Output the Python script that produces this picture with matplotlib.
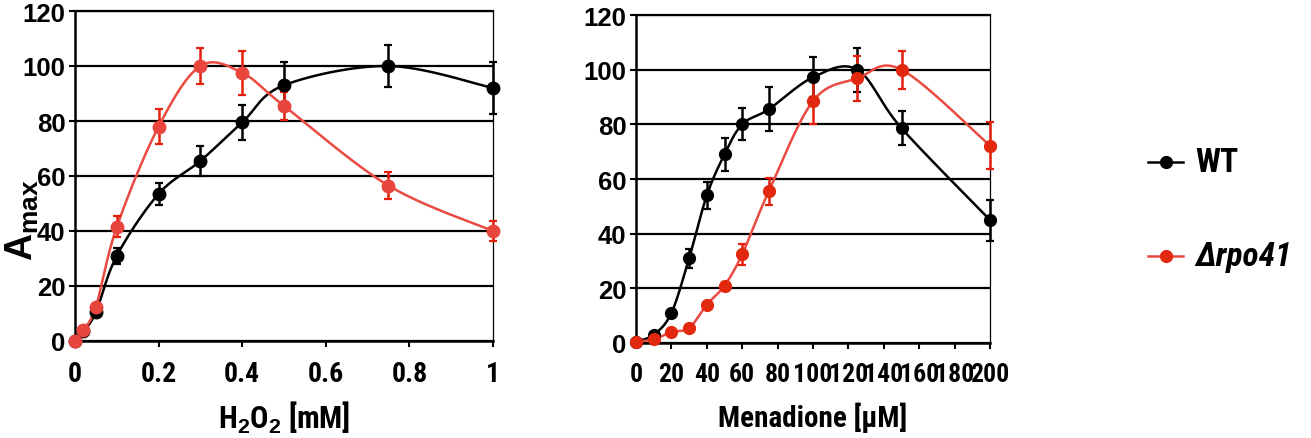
import numpy as np
import matplotlib
matplotlib.use("Agg")
import matplotlib.pyplot as plt
from matplotlib.lines import Line2D
from matplotlib import font_manager


def pick_bold_family(candidates, fallback="Liberation Sans"):
    fonts = font_manager.fontManager.ttflist
    for name in candidates:
        for f in fonts:
            w = f.weight if isinstance(f.weight, int) else 400
            if f.name == name and w >= 700 and f.style == "normal":
                return name
    return fallback


plt.rcParams["font.family"] = ["Liberation Sans", "DejaVu Sans"]
plt.rcParams["font.weight"] = "bold"
plt.rcParams["mathtext.fontset"] = "custom"
plt.rcParams["mathtext.rm"] = "Liberation Sans:bold"
plt.rcParams["mathtext.it"] = "Liberation Sans:bold:italic"
plt.rcParams["mathtext.bf"] = "Liberation Sans:bold"
plt.rcParams["mathtext.default"] = "rm"

narrow_name = pick_bold_family(["Roboto Condensed", "Archivo Narrow",
                                "PT Sans Narrow", "IBM Plex Sans Condensed",
                                "Fira Sans Condensed", "Barlow Semi Condensed"])
NARROW = [narrow_name, "Liberation Sans", "DejaVu Sans"]

# ---- H2O2 panel ----
h2o2_conc = [0, 0.02, 0.05, 0.1, 0.2, 0.3, 0.4, 0.5, 0.75, 1.0]
h2o2_wt = [0, 3.5, 10.5, 31, 53.5, 65.5, 79.5, 93, 100, 92]
h2o2_wt_err = [0, 0, 1, 3, 4, 5.5, 6.5, 8.5, 7.5, 9.5]
h2o2_mut = [0, 4, 12.5, 41.5, 78, 100, 97.5, 85.5, 56.5, 40]
h2o2_mut_err = [0, 0, 1, 3.8, 6.5, 6.7, 8, 5, 4.8, 3.5]
h2o2_ticks = [0, 0.2, 0.4, 0.6, 0.8, 1.0]
h2o2_ticklabels = ["0", "0.2", "0.4", "0.6", "0.8", "1"]

# ---- Menadione panel ----
men_conc = [0, 10, 20, 30, 40, 50, 60, 75, 100, 125, 150, 200]
men_wt = [0.5, 3, 11, 31, 54, 69, 80, 85.5, 97.2, 100, 78.6, 45]
men_wt_err = [0, 0, 0, 3.5, 5, 6, 5.8, 8, 7.3, 8, 6.2, 7.5]
men_mut = [0.5, 1.3, 4, 5.5, 14, 21, 32.5, 55.5, 88.5, 96.8, 100, 72.2]
men_mut_err = [0, 0, 0, 0, 0, 1.5, 3.8, 5, 8.3, 8.3, 7, 8.6]
men_ticks = list(range(0, 201, 20))

y_ticks = [0, 20, 40, 60, 80, 100, 120]

series_labels = ["WT", "\u0394rpo41"]

BLACK = "#000000"
RED_LINE = "#ea4a42"
RED_ERR = "#e4200c"


def excel_smooth(ax, x, y, n=30):
    """Bezier smoothing in display space, like a spreadsheet 'smoothed line'."""
    ax.figure.canvas.draw()
    pts = ax.transData.transform(np.column_stack([x, y]))
    m = len(pts)
    out = []
    for i in range(m - 1):
        p0 = pts[max(i - 1, 0)]
        p1 = pts[i]
        p2 = pts[i + 1]
        p3 = pts[min(i + 2, m - 1)]
        c1 = p1 + (p2 - p0) / 6.0
        c2 = p2 - (p3 - p1) / 6.0
        t = np.linspace(0, 1, n)[:, None]
        seg = ((1 - t) ** 3) * p1 + 3 * ((1 - t) ** 2) * t * c1 \
            + 3 * (1 - t) * t ** 2 * c2 + t ** 3 * p2
        out.append(seg if i == 0 else seg[1:])
    return ax.transData.inverted().transform(np.vstack(out))


def style_axes(ax, xlim, xticks, xticklabels, xsize):
    ax.set_xlim(*xlim)
    ax.set_ylim(0, 120)
    ax.set_yticks(y_ticks)
    ax.set_xticks(xticks)
    ax.set_xticklabels(xticklabels, fontfamily=NARROW, fontsize=xsize,
                       fontweight="bold")
    ax.set_yticklabels([str(v) for v in y_ticks], fontsize=18.5,
                       fontweight="bold")
    ax.yaxis.grid(True, color="black", linewidth=1.6)
    ax.set_axisbelow(True)
    for s in ["left", "bottom"]:
        ax.spines[s].set_linewidth(1.8)
    ax.spines["right"].set_linewidth(0.9)
    ax.spines["top"].set_linewidth(1.6)
    ax.tick_params(axis="both", direction="out", length=4, width=1.5)
    ax.tick_params(axis="y", pad=3)
    ax.tick_params(axis="x", pad=10)


def draw_series(ax, x, y, err, line_color, marker_color, err_color, ms):
    sx, sy = excel_smooth(ax, x, y).T
    ax.plot(sx, sy, color=line_color, lw=1.8, zorder=3, clip_on=False)
    ax.errorbar(x, y, yerr=err, fmt="none", ecolor=err_color, elinewidth=1.8,
                capsize=2.8, capthick=1.6, zorder=4, clip_on=False)
    ax.plot(x, y, "o", color=marker_color, ms=ms, mec=marker_color,
            zorder=5, clip_on=False, lw=0)


fig = plt.figure(figsize=(13.11, 4.39), dpi=100)
ax1 = fig.add_axes([75 / 1311, 97 / 439, 418 / 1311, 330 / 439])
ax2 = fig.add_axes([636 / 1311, 95 / 439, 354 / 1311, 328 / 439])

style_axes(ax1, (0, 1), h2o2_ticks, h2o2_ticklabels, 20)
style_axes(ax2, (0, 200), men_ticks, [str(t) for t in men_ticks], 18.5)

draw_series(ax1, h2o2_conc, h2o2_wt, h2o2_wt_err, BLACK, BLACK, BLACK, 9)
draw_series(ax1, h2o2_conc, h2o2_mut, h2o2_mut_err, RED_LINE, "#e8463d", RED_ERR, 9)
draw_series(ax2, men_conc, men_wt, men_wt_err, BLACK, BLACK, BLACK, 8.5)
draw_series(ax2, men_conc, men_mut, men_mut_err, RED_LINE, "#e2290f", RED_ERR, 8.5)

plt.rcParams["mathtext.rm"] = narrow_name + ":bold"
ax1.set_xlabel(r"H$_2$O$_2$ [mM]", fontsize=22, fontweight="bold",
               fontfamily=NARROW, labelpad=8)
ax2.set_xlabel("Menadione [\u03bcM]", fontsize=21, fontweight="bold",
               fontfamily=NARROW, labelpad=11)

plt.rcParams["mathtext.rm"] = "Liberation Sans:bold"
fig.text(4 / 1311, 1 - 220 / 439, r"$A_{max}$", rotation=90, fontsize=27,
         ha="left", va="center")

# Legend drawn beside the second panel
leg_items = [(163, BLACK, BLACK), (257, RED_LINE, "#e2290f")]
for (ypix, lc, mc), lab in zip(leg_items, series_labels):
    yf = 1 - ypix / 439
    fig.add_artist(Line2D([1148 / 1311, 1183 / 1311], [yf, yf], color=lc,
                          lw=1.8, transform=fig.transFigure))
    fig.add_artist(Line2D([1166 / 1311], [yf], marker="o", ms=8.5, color=mc,
                          transform=fig.transFigure))
    fig.text(1195 / 1311, yf, lab, fontsize=24, fontweight="bold",
             fontfamily=NARROW,
             style="italic" if lab != "WT" else "normal", va="center", ha="left")

fig.savefig("out.png", dpi=100)
